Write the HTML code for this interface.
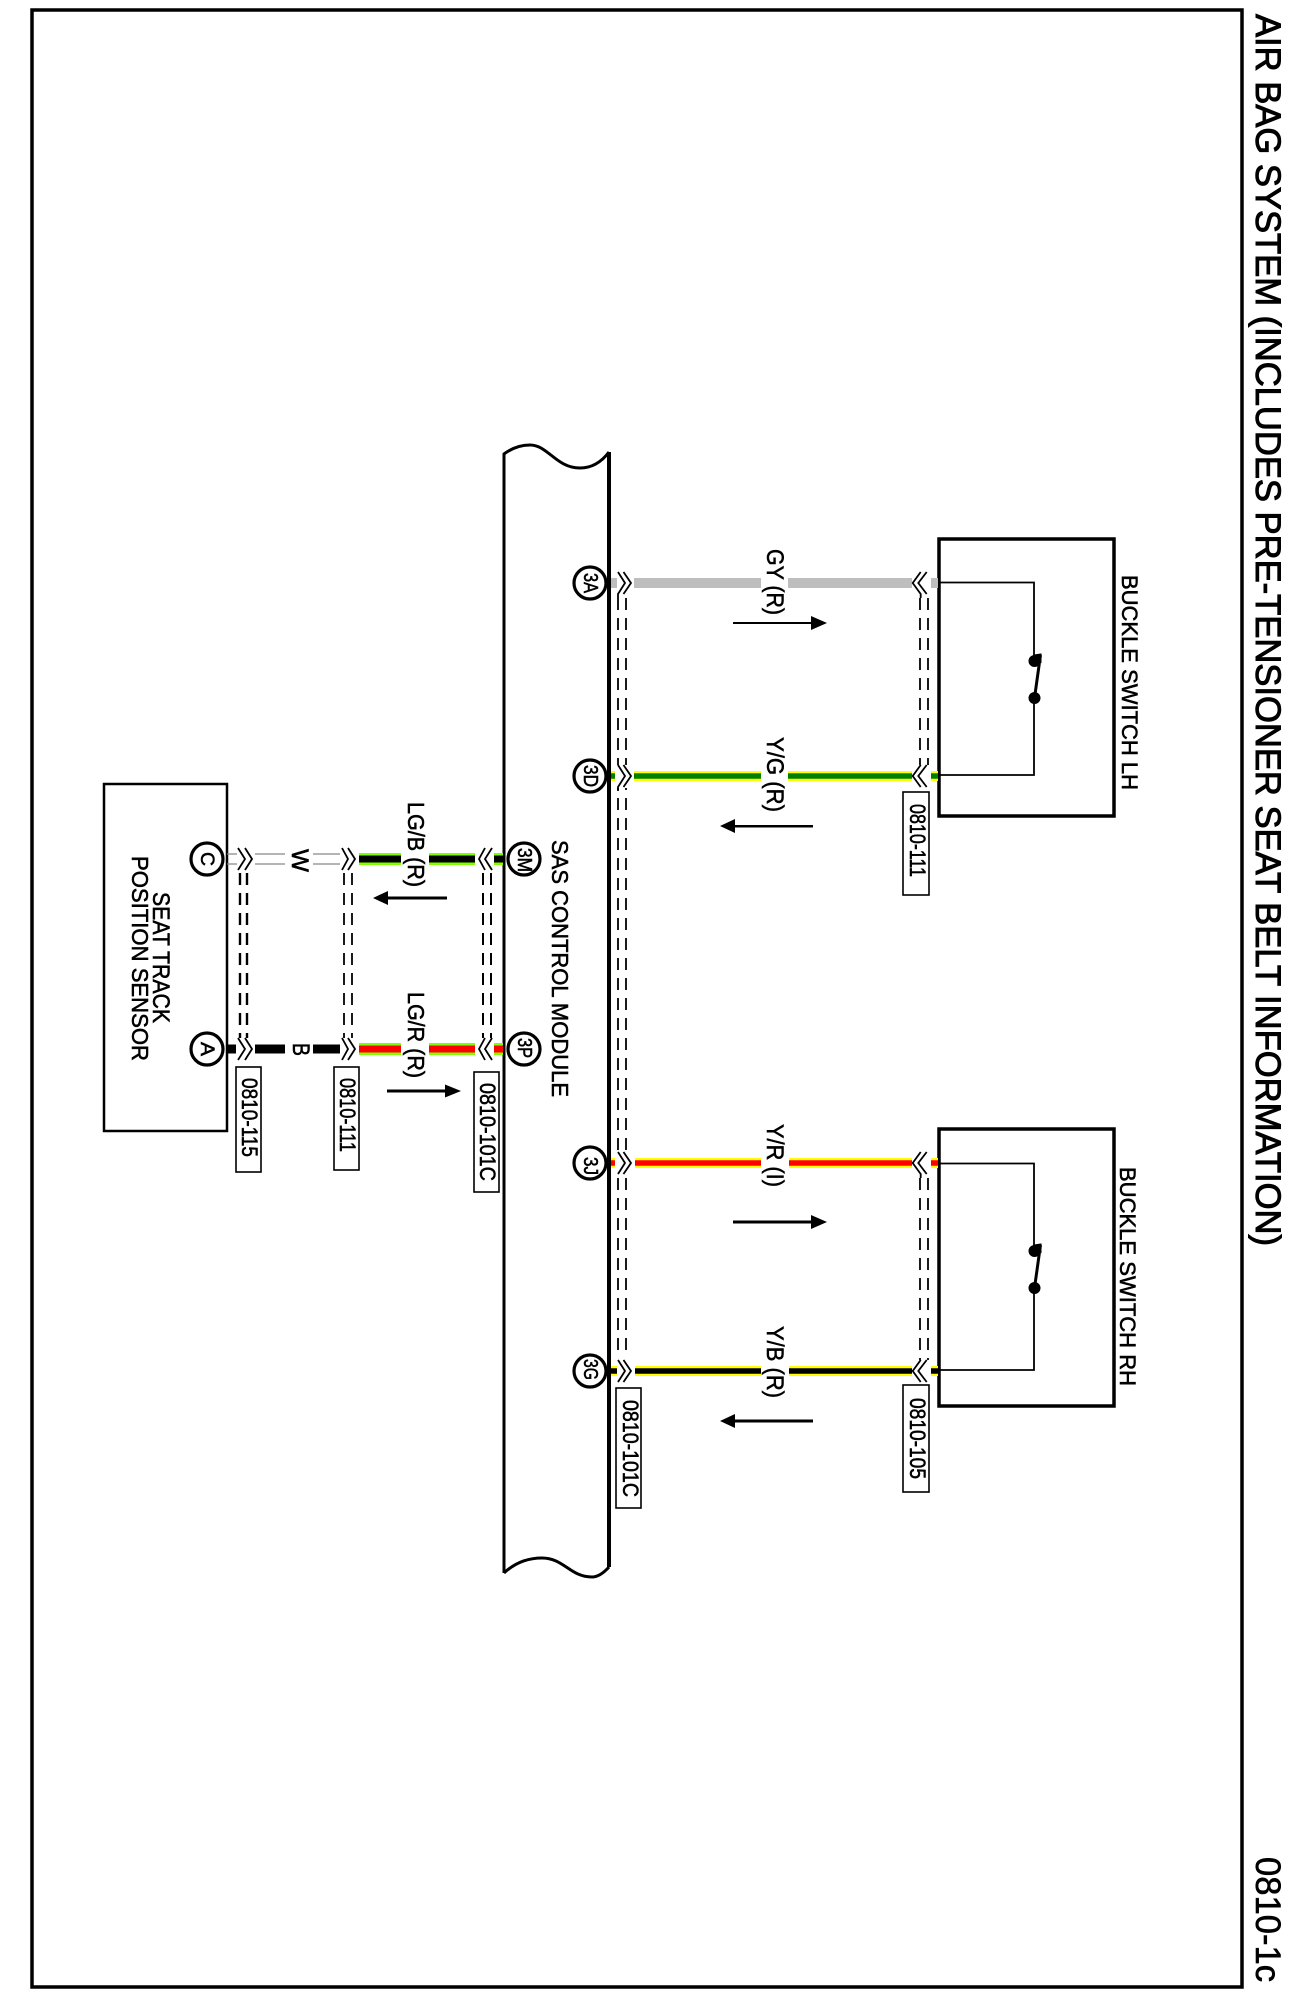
<!DOCTYPE html>
<html><head><meta charset="utf-8"><title>Air Bag System</title>
<style>html,body{margin:0;padding:0;background:#fff}svg{display:block}text{font-family:"Liberation Sans",Arial,sans-serif;fill:#000;stroke:#000;stroke-width:.55px}</style></head>
<body>
<svg xmlns="http://www.w3.org/2000/svg" width="1291" height="1998" viewBox="0 0 1291 1998">
<rect width="1291" height="1998" fill="#fff"/>
<rect x="32" y="10" width="1210" height="1977" fill="none" stroke="#000" stroke-width="3.5"/>

<!-- module -->
<path d="M504 454 Q516 445 530 445 C548 445 556 468 580 468 Q597 468 609 452 L609 1567 Q600 1577 592 1577 C570 1577 564 1558 542 1558 Q520 1558 504 1573 Z" fill="#fff" stroke="none"/>
<path d="M504 1573 L504 454 Q516 445 530 445 C548 445 556 468 580 468 Q597 468 609 452" fill="none" stroke="#000" stroke-width="3"/>
<path d="M504 1573 Q520 1558 542 1558 C564 1558 570 1577 592 1577 Q600 1577 609 1567" fill="none" stroke="#000" stroke-width="3"/>
<path d="M609 452 L609 1567" fill="none" stroke="#000" stroke-width="4"/>

<!-- boxes -->
<rect x="104" y="784" width="123" height="347" fill="none" stroke="#000" stroke-width="2.5"/>
<rect x="939" y="539" width="175" height="277" fill="none" stroke="#000" stroke-width="3.5"/>
<rect x="939" y="1129" width="175" height="277" fill="none" stroke="#000" stroke-width="3.5"/>

<!-- switches -->
<g fill="none" stroke="#000" stroke-width="1.8">
<path d="M939 582.5 H1034 V661 M1034 698 V775 H939"/>
<path d="M939 1163.5 H1034 V1251 M1034 1288 V1370 H939"/>
</g>
<g fill="#000" stroke="#000">
<circle cx="1034.5" cy="661" r="5.5"/><circle cx="1034.5" cy="698" r="5.5"/>
<path d="M1034.5 698 L1040.5 655" stroke-width="3"/>
<path d="M1034 655 L1041 654 L1041 662 Z"/>
<circle cx="1034.5" cy="1251" r="5.5"/><circle cx="1034.5" cy="1288" r="5.5"/>
<path d="M1034.5 1288 L1040.5 1245" stroke-width="3"/>
<path d="M1034 1245 L1041 1244 L1041 1252 Z"/>
</g>

<!-- right wires -->
<g stroke-width="10" fill="none" stroke="#bebebe">
<path d="M611 583H617M634 583H761M788 583H912M931 583H938"/>
</g>
<g stroke-width="10" fill="none" stroke="#ffff00">
<path d="M611 776H617M634 776H761M788 776H912M931 776H938"/>
<path d="M611 1163H617M635 1163H761M789 1163H912M931 1163H938"/>
<path d="M611 1371H617M635 1371H761M789 1371H912M931 1371H938"/>
</g>
<g stroke-width="5.5" fill="none">
<path stroke="#008000" d="M611 776H617M634 776H761M788 776H912M931 776H938"/>
<path stroke="#ff0000" d="M611 1163H617M635 1163H761M789 1163H912M931 1163H938"/>
<path stroke="#000" d="M611 1371H617M635 1371H761M789 1371H912M931 1371H938"/>
</g>

<!-- left wires -->
<g fill="none">
<path stroke="#888" stroke-width="1.3" d="M227 854H237M227 864H237M255 854H285M255 864H285M313 854H340M313 864H340"/>
<path stroke="#000" stroke-width="9" d="M227 1049H237M255 1049H285M313 1049H340"/>
<path stroke="#80ff00" stroke-width="12" d="M359 859H401M429 859H475M494 859H503"/>
<path stroke="#000" stroke-width="7" d="M359 859H401M429 859H475M494 859H503"/>
<path stroke="#80ff00" stroke-width="12" d="M359 1049H401M429 1049H475M494 1049H503"/>
<path stroke="#ff0000" stroke-width="7" d="M359 1049H401M429 1049H475M494 1049H503"/>
</g>

<!-- dashed connectors -->
<g fill="none" stroke="#000" stroke-dasharray="12 8">
<g stroke-width="1.8">
<path d="M618 598V1358M626 598V1358"/>
<path d="M920 598V765M928 598V765M920 1178V1360M928 1178V1360"/>
<path d="M344 873V1038M352 873V1038"/>
</g>
<path stroke-width="2" d="M483 873V1038M491 873V1038"/>
<path stroke-width="2.4" d="M240 873V1038M247 873V1038"/>
</g>

<!-- chevrons -->
<g fill="#fff" stroke="none">
<rect x="615" y="765" width="18" height="23"/><rect x="615" y="1152" width="18" height="23"/>
<rect x="236" y="1038" width="17" height="22"/><rect x="340" y="1038" width="17" height="22"/><rect x="477" y="1038" width="17" height="22"/>
</g>
<g fill="none" stroke="#000" stroke-width="1.8">
<path d="M618 572L625 583L618 594V598M623.500 572L631 583L623.500 594"/>
<path d="M618 765L625 776L618 787V791M623.500 765L631 776L623.500 787"/>
<path d="M618 1152L625 1163L618 1174M623.500 1152L631 1163L623.500 1174"/>
<path d="M618 1360L625 1371L618 1382M623.500 1360L631 1371L623.500 1382"/>
<path d="M920.700 572L912.700 583L920.700 594V598M926.700 572L918.300 583L926.700 594"/>
<path d="M920.700 765L912.700 776L920.700 787M926.700 765L918.300 776L926.700 787"/>
<path d="M920.700 1152L912.700 1163L920.700 1174V1178M926.700 1152L918.300 1163L926.700 1174"/>
<path d="M920.700 1360L912.700 1371L920.700 1382M926.700 1360L918.300 1371L926.700 1382"/>
<path d="M238 848L245 859L238 870M245 848L252 859L245 870"/>
<path d="M238 1038L245 1049L238 1060M245 1038L252 1049L245 1060"/>
<path d="M342 848L348 859L342 870M348 848L355 859L348 870"/>
<path d="M342 1038L348 1049L342 1060M348 1038L355 1049L348 1060"/>
<path d="M485 848L479 859L485 870M492 848L485 859L492 870"/>
<path d="M485 1038L479 1049L485 1060M492 1038L485 1049L492 1060"/>
</g>

<!-- arrows -->
<g fill="#000" stroke="none">
<path d="M373 898L388 891V896.500H447V899.500H388V905Z"/>
<path d="M461 1091L445 1084.500V1089.500H387V1092.500H445V1097.500Z"/>
<path d="M827 623L811 616V622H733V624H811V630Z"/>
<path d="M720 826L735 819V825H813V827.500H735V833Z"/>
<path d="M827 1222L811 1215V1220.500H733V1223.500H811V1229Z"/>
<path d="M720 1421L735 1414V1419.500H813V1422.500H735V1428Z"/>
</g>

<!-- circles -->
<g fill="#fff" stroke="#000" stroke-width="3.2">
<circle cx="590" cy="583" r="16"/><circle cx="590" cy="776" r="16"/><circle cx="590" cy="1163" r="16"/><circle cx="590" cy="1371" r="16"/>
<circle cx="524" cy="859" r="16"/><circle cx="524" cy="1049" r="16"/>
<circle cx="207" cy="859" r="16"/><circle cx="207" cy="1049" r="16"/>
</g>

<!-- connector boxes -->
<g fill="#fff" stroke="#000" stroke-width="1.6">
<rect x="236" y="1067" width="25" height="105"/>
<rect x="334" y="1067" width="25" height="103"/>
<rect x="474" y="1072" width="25" height="120"/>
<rect x="903" y="792" width="26" height="103"/>
<rect x="616" y="1388" width="25" height="120"/>
<rect x="903" y="1385" width="26" height="107"/>
</g>

<!-- text -->
<g font-size="22">
<text style="stroke-width:1px" transform="translate(1256,14) rotate(90)" font-size="35" textLength="1232" lengthAdjust="spacingAndGlyphs">AIR BAG SYSTEM (INCLUDES PRE-TENSIONER SEAT BELT INFORMATION)</text>
<text style="stroke-width:.6px" transform="translate(1256,1857) rotate(90)" font-size="35" textLength="125" lengthAdjust="spacingAndGlyphs">0810-1c</text>

<text transform="translate(552,840) rotate(90)" font-size="23" textLength="257" lengthAdjust="spacingAndGlyphs">SAS CONTROL MODULE</text>
<text transform="translate(1122,575) rotate(90)" font-size="22" textLength="215" lengthAdjust="spacingAndGlyphs">BUCKLE SWITCH LH</text>
<text transform="translate(1120,1167) rotate(90)" font-size="22" textLength="219" lengthAdjust="spacingAndGlyphs">BUCKLE SWITCH RH</text>
<text transform="translate(153,892) rotate(90)" font-size="24" textLength="131" lengthAdjust="spacingAndGlyphs">SEAT TRACK</text>
<text transform="translate(132,856) rotate(90)" font-size="23" textLength="205" lengthAdjust="spacingAndGlyphs">POSITION SENSOR</text>

<text transform="translate(408,802) rotate(90)" font-size="23" textLength="85" lengthAdjust="spacingAndGlyphs">LG/B (R)</text>
<text transform="translate(408,992) rotate(90)" font-size="23" textLength="86" lengthAdjust="spacingAndGlyphs">LG/R (R)</text>
<text transform="translate(767,549) rotate(90)" font-size="24" textLength="66" lengthAdjust="spacingAndGlyphs">GY (R)</text>
<text transform="translate(767,737) rotate(90)" font-size="24" textLength="75" lengthAdjust="spacingAndGlyphs">Y/G (R)</text>
<text transform="translate(767,1124) rotate(90)" font-size="24" textLength="63" lengthAdjust="spacingAndGlyphs">Y/R (I)</text>
<text transform="translate(767,1326) rotate(90)" font-size="24" textLength="72" lengthAdjust="spacingAndGlyphs">Y/B (R)</text>
<text transform="translate(292,849) rotate(90)" font-size="24" textLength="23" lengthAdjust="spacingAndGlyphs">W</text>
<text transform="translate(293,1043) rotate(90)" font-size="24" textLength="13" lengthAdjust="spacingAndGlyphs">B</text>

<text transform="translate(242,1078) rotate(90)" font-size="22" textLength="79" lengthAdjust="spacingAndGlyphs">0810-115</text>
<text transform="translate(340,1078) rotate(90)" font-size="22" textLength="74" lengthAdjust="spacingAndGlyphs">0810-111</text>
<text transform="translate(480,1083) rotate(90)" font-size="22" textLength="98" lengthAdjust="spacingAndGlyphs">0810-101C</text>
<text transform="translate(910,804) rotate(90)" font-size="22" textLength="73" lengthAdjust="spacingAndGlyphs">0810-111</text>
<text transform="translate(623,1400) rotate(90)" font-size="22" textLength="97" lengthAdjust="spacingAndGlyphs">0810-101C</text>
<text transform="translate(910,1398) rotate(90)" font-size="22" textLength="81" lengthAdjust="spacingAndGlyphs">0810-105</text>

<text transform="translate(584,573) rotate(90)" font-size="20" textLength="20" lengthAdjust="spacingAndGlyphs">3A</text>
<text transform="translate(584,765) rotate(90)" font-size="20" textLength="22" lengthAdjust="spacingAndGlyphs">3D</text>
<text transform="translate(584,1157) rotate(90)" font-size="20" textLength="18" lengthAdjust="spacingAndGlyphs">3J</text>
<text transform="translate(584,1359) rotate(90)" font-size="20" textLength="21" lengthAdjust="spacingAndGlyphs">3G</text>
<text transform="translate(518,848) rotate(90)" font-size="20" textLength="24" lengthAdjust="spacingAndGlyphs">3M</text>
<text transform="translate(518,1038) rotate(90)" font-size="20" textLength="20" lengthAdjust="spacingAndGlyphs">3P</text>
<text transform="translate(201,852) rotate(90)" font-size="19" textLength="14" lengthAdjust="spacingAndGlyphs">C</text>
<text transform="translate(201,1042) rotate(90)" font-size="19" textLength="14" lengthAdjust="spacingAndGlyphs">A</text>
</g>
</svg>
</body></html>
